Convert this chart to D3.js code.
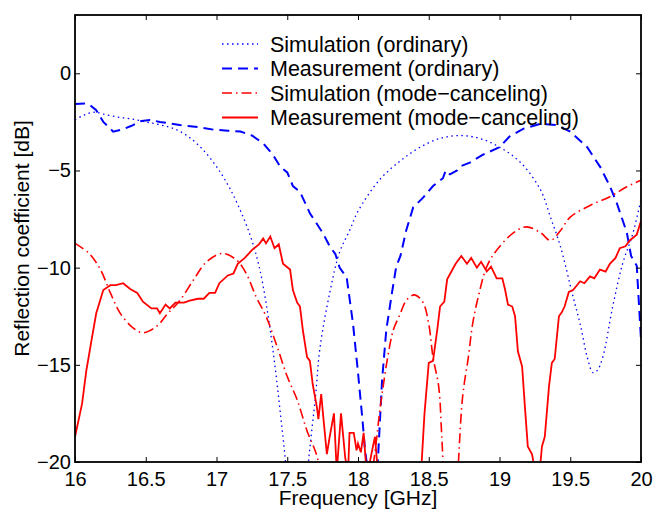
<!DOCTYPE html>
<html>
<head>
<meta charset="utf-8">
<title>Reflection coefficient</title>
<script src="https://d3js.org/d3.v7.min.js"></script>
<style>
  body { margin: 0; background: #fff; }
  text { font-family: "Liberation Sans", Arial, Helvetica, sans-serif; fill: #000; }
</style>
</head>
<body>
<svg id="chart" width="655" height="513"></svg>
<script>
// [frequency GHz, reflection dB]
var simOrdinary = [
  [16.0,-2.4],[16.05,-2.2],[16.1,-2.05],[16.15,-2.0],[16.2,-2.1],[16.3,-2.25],[16.4,-2.35],
  [16.5,-2.5],[16.6,-2.65],[16.7,-2.85],[16.8,-3.25],[16.9,-3.9],[17.0,-4.8],[17.1,-6.0],
  [17.2,-7.6],[17.25,-8.6],[17.3,-9.9],[17.35,-11.8],[17.4,-14.3],[17.45,-17.4],[17.5,-21],
  [17.56,-28],[17.62,-23],[17.65,-20],[17.7,-16.6],[17.73,-14.2],[17.8,-11.3],[17.87,-9.2],
  [17.94,-8.1],[18.0,-7.1],[18.15,-5.5],[18.3,-4.5],[18.44,-3.8],[18.58,-3.35],[18.72,-3.2],
  [18.86,-3.35],[19.0,-3.8],[19.15,-4.6],[19.29,-6.0],[19.36,-7.4],[19.43,-8.9],[19.52,-11.5],
  [19.57,-12.9],[19.62,-14.6],[19.66,-15.4],[19.69,-15.3],[19.73,-14.6],[19.8,-12.0],
  [19.87,-9.8],[19.94,-8.3],[20.0,-6.5]
];
var measOrdinary = [
  [16.0,-1.58],[16.07,-1.55],[16.1,-1.6],[16.15,-1.9],[16.2,-2.5],[16.27,-3.0],[16.33,-2.9],
  [16.4,-2.7],[16.47,-2.45],[16.53,-2.4],[16.6,-2.5],[16.74,-2.66],[16.85,-2.75],[16.98,-2.9],
  [17.08,-2.95],[17.17,-3.0],[17.25,-3.2],[17.33,-3.6],[17.4,-4.2],[17.45,-4.8],[17.5,-5.1],
  [17.54,-5.8],[17.59,-6.1],[17.66,-7.2],[17.75,-8.2],[17.8,-8.9],[17.84,-9.3],[17.87,-10.0],
  [17.92,-10.5],[17.965,-12.9],[18.0,-15.4],[18.03,-17.7],[18.05,-19.4],[18.08,-21],[18.11,-22],
  [18.14,-20],[18.17,-15.8],[18.2,-13.2],[18.24,-11.3],[18.27,-9.95],[18.3,-9.4],[18.34,-8.1],
  [18.39,-6.9],[18.46,-6.4],[18.53,-5.8],[18.6,-5.4],[18.62,-5.0],[18.65,-5.2],[18.7,-5.0],
  [18.72,-4.8],[18.79,-4.6],[18.88,-4.2],[19.0,-3.8],[19.07,-3.26],[19.17,-2.85],[19.29,-2.6],
  [19.4,-2.66],[19.5,-3.0],[19.62,-3.8],[19.71,-4.8],[19.78,-5.8],[19.83,-6.7],[19.9,-8.2],
  [19.93,-9.4],[19.97,-9.9],[20.0,-13.7]
];
var simModeCanceling = [
  [16.0,-8.75],[16.1,-9.27],[16.18,-10.1],[16.25,-11.3],[16.32,-12.35],[16.41,-13.1],[16.48,-13.35],
  [16.58,-13.0],[16.65,-12.4],[16.74,-11.7],[16.84,-10.6],[16.93,-9.7],[17.04,-9.27],[17.14,-9.6],
  [17.21,-10.3],[17.28,-11.5],[17.35,-12.5],[17.43,-14.1],[17.5,-15.6],[17.57,-16.8],[17.64,-18.4],
  [17.71,-19.7],[17.8,-23],[17.93,-28],[18.05,-23],[18.12,-19.5],[18.155,-17.3],[18.18,-16.0],
  [18.21,-14.6],[18.25,-13.2],[18.3,-12.35],[18.34,-11.7],[18.4,-11.4],[18.46,-11.8],[18.5,-12.9],
  [18.53,-14.6],[18.57,-16.1],[18.59,-18.4],[18.6,-19.9],[18.62,-23],[18.66,-27],[18.69,-23],
  [18.71,-20],[18.74,-16.6],[18.78,-14.6],[18.81,-12.9],[18.85,-11.5],[18.91,-9.95],[18.98,-9.1],
  [19.1,-8.2],[19.19,-7.9],[19.29,-8.2],[19.36,-8.6],[19.43,-8.1],[19.5,-7.4],[19.64,-6.8],
  [19.78,-6.35],[19.9,-5.84],[20.0,-5.5]
];
var measModeCanceling = [
  [16.0,-18.7],[16.05,-17.0],[16.08,-15.3],[16.12,-13.6],[16.15,-12.35],[16.2,-11.15],[16.25,-10.9],
  [16.29,-10.9],[16.34,-10.8],[16.39,-11.1],[16.44,-11.3],[16.48,-11.75],[16.54,-12.1],[16.58,-12.1],
  [16.6,-12.35],[16.64,-11.9],[16.67,-12.1],[16.71,-11.8],[16.77,-11.8],[16.81,-11.7],[16.87,-11.6],
  [16.91,-11.6],[16.95,-11.3],[16.99,-11.3],[17.02,-10.8],[17.08,-10.4],[17.12,-10.3],[17.15,-9.8],
  [17.2,-9.5],[17.25,-9.1],[17.3,-8.8],[17.33,-8.5],[17.35,-8.75],[17.38,-8.4],[17.41,-9.0],
  [17.44,-8.8],[17.47,-9.8],[17.52,-10.1],[17.54,-11.15],[17.57,-11.8],[17.59,-12.0],[17.61,-13.2],
  [17.64,-14.6],[17.66,-14.8],[17.68,-16.0],[17.71,-17.2],[17.72,-17.8],[17.74,-16.5],[17.755,-17.7],
  [17.78,-19.6],[17.8,-18.7],[17.83,-17.5],[17.85,-20.5],[17.88,-17.5],[17.91,-19.8],[17.93,-20.5],
  [17.94,-18.5],[17.97,-18.5],[17.99,-19.4],[18.0,-19.05],[18.02,-19.5],[18.04,-18.5],[18.06,-20.5],
  [18.07,-20.5],[18.1,-19.4],[18.12,-18.7],[18.14,-20.5],[18.17,-21],[18.3,-30],[18.44,-21],
  [18.45,-20],[18.47,-17.5],[18.5,-14.9],[18.53,-14.8],[18.56,-13.2],[18.58,-12.0],[18.61,-11.75],
  [18.63,-10.6],[18.66,-10.2],[18.69,-9.8],[18.73,-9.4],[18.77,-9.8],[18.8,-9.5],[18.84,-10.0],
  [18.87,-9.7],[18.91,-10.2],[18.94,-9.95],[18.98,-10.55],[19.02,-10.55],[19.04,-11.15],[19.06,-11.9],
  [19.09,-12.0],[19.11,-12.5],[19.13,-14.3],[19.16,-15.1],[19.18,-17.2],[19.2,-19.2],[19.23,-19.6],
  [19.24,-20],[19.265,-23],[19.29,-20],[19.3,-19.2],[19.32,-18.7],[19.35,-16.1],[19.37,-14.9],
  [19.39,-14.7],[19.42,-12.5],[19.44,-12.3],[19.46,-12.0],[19.49,-11.25],[19.52,-11.15],[19.57,-10.7],
  [19.6,-10.8],[19.64,-10.45],[19.67,-10.55],[19.71,-10.1],[19.75,-10.2],[19.78,-9.8],[19.82,-9.5],
  [19.85,-9.0],[19.89,-8.9],[19.92,-8.6],[19.97,-8.3],[20.0,-7.6]
];

var xTicks = [16, 16.5, 17, 17.5, 18, 18.5, 19, 19.5, 20];
var yTicks = [0, -5, -10, -15, -20];
var legendLabels = ["Simulation (ordinary)", "Measurement (ordinary)",
                    "Simulation (mode\u2212canceling)", "Measurement (mode\u2212canceling)"];

var svg = d3.select("#chart");
var margin = {left: 75, top: 15, right: 14, bottom: 51};
var width = 655 - margin.left - margin.right;
var height = 513 - margin.top - margin.bottom;

var x = d3.scaleLinear().domain([16, 20]).range([0, width]);
var y = d3.scaleLinear().domain([-20, 3]).range([height, 0]);

var g = svg.append("g").attr("transform", "translate(" + margin.left + "," + margin.top + ")");

g.append("clipPath").attr("id", "clip")
  .append("rect").attr("width", width).attr("height", height);

// series styles
var series = [
  {data: simOrdinary, color: "#0000ff", dash: "1.5,3.5", w: 1.3, curve: d3.curveCatmullRom},
  {data: measOrdinary, color: "#0000ff", dash: "10,6", w: 2, curve: d3.curveLinear},
  {data: simModeCanceling, color: "#ff0000", dash: "10,4,1.5,4", w: 1.6, curve: d3.curveCatmullRom},
  {data: measModeCanceling, color: "#ff0000", dash: null, w: 1.8, curve: d3.curveLinear}
];

var plot = g.append("g").attr("clip-path", "url(#clip)");
series.forEach(function(s) {
  var line = d3.line().x(function(d) { return x(d[0]); }).y(function(d) { return y(d[1]); }).curve(s.curve);
  plot.append("path")
    .datum(s.data)
    .attr("fill", "none")
    .attr("stroke", s.color)
    .attr("stroke-width", s.w)
    .attr("stroke-dasharray", s.dash)
    .attr("d", line);
});

// axes, ticks inside on all sides
var fmt = function(d) { return d3.format("")(d).replace("-", "\u2212"); };
var xAxis = g.append("g").attr("transform", "translate(0," + height + ")")
  .call(d3.axisBottom(x).tickValues(xTicks).tickSize(-5).tickPadding(10).tickFormat(fmt));
var xTop = g.append("g")
  .call(d3.axisTop(x).tickValues(xTicks).tickSize(-5).tickFormat(""));
var yAxis = g.append("g")
  .call(d3.axisLeft(y).tickValues(yTicks).tickSize(-5).tickPadding(4).tickFormat(fmt));
var yRight = g.append("g").attr("transform", "translate(" + width + ",0)")
  .call(d3.axisRight(y).tickValues(yTicks).tickSize(-5).tickFormat(""));

[xAxis, xTop, yAxis, yRight].forEach(function(a) {
  a.select(".domain").remove();
  a.selectAll(".tick line").attr("stroke", "#000").attr("stroke-width", 1);
  a.selectAll("text").style("font-size", "20px").attr("fill", "#000");
});

g.append("rect").attr("width", width).attr("height", height)
  .attr("fill", "none").attr("stroke", "#000").attr("stroke-width", 1.8);

// axis labels
svg.append("text")
  .attr("x", margin.left + width / 2).attr("y", 505)
  .attr("text-anchor", "middle").style("font-size", "21px")
  .text("Frequency [GHz]");
svg.append("text")
  .attr("transform", "translate(29," + (margin.top + height / 2) + ") rotate(-90)")
  .attr("text-anchor", "middle").style("font-size", "21px")
  .text("Reflection coefficient [dB]");

// legend (no box)
var legend = svg.append("g").attr("transform", "translate(222,44)");
series.forEach(function(s, i) {
  var row = legend.append("g").attr("transform", "translate(0," + (i * 24.5) + ")");
  row.append("line").attr("x1", 0).attr("x2", 36).attr("y1", 0).attr("y2", 0)
    .attr("stroke", s.color).attr("stroke-width", s.w).attr("stroke-dasharray", s.dash);
  row.append("text").attr("x", 48).attr("y", 0).attr("dy", "0.35em")
    .style("font-size", "21.5px").text(legendLabels[i]);
});
</script>
</body>
</html>
